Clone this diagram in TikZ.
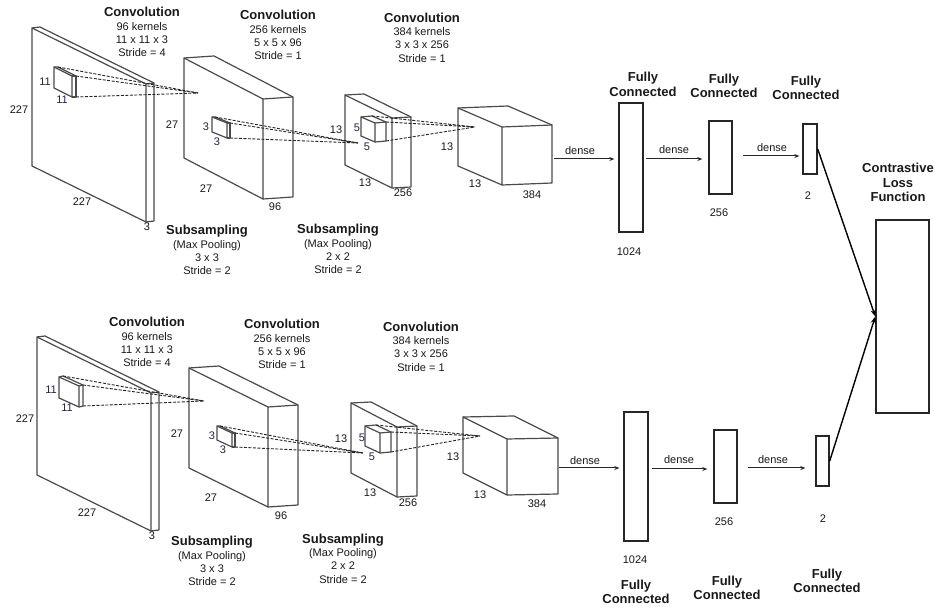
\documentclass[tikz,border=0pt]{standalone}
\usepackage{fontspec}
\setmainfont{Liberation Sans}
\usetikzlibrary{arrows.meta,calc}
\definecolor{edgec}{RGB}{75,75,75}
\definecolor{klab}{RGB}{35,35,75}
\definecolor{txt}{RGB}{25,25,25}
\newcommand\mycube[8]{%
  \coordinate (#1-a) at (#2,#3);
  \coordinate (#1-b) at (#4,#5);
  \coordinate (#1-c) at (#4,{#5+#6});
  \coordinate (#1-d) at (#2,{#3+#6});
  \coordinate (#1-f) at ({#2+#7},{#3+(#8)});
  \coordinate (#1-e) at ({#4+#7},{#5+(#8)});
  \coordinate (#1-g) at ({#4+#7},{#5+#6+(#8)});
  \draw[blk] (#1-a) -- (#1-b) -- (#1-c) -- (#1-d) -- cycle;
  \draw[blk] (#1-b) -- (#1-e) -- (#1-g) -- (#1-c);
  \draw[blk] (#1-a) -- (#1-f) -- (#1-e);
}
\newcommand\myrays[2]{%
  \draw[ray] (#1-f) -- (#2);
  \draw[ray] (#1-e) -- (#2);
  \draw[ray] (#1-g) -- (#2);
}
\begin{document}
\begin{tikzpicture}[x=1pt,y=-1pt,
  blk/.style={draw=edgec,line width=1.2pt,line join=round},
  ray/.style={draw=black!85,line width=0.9pt,dash pattern=on 3pt off 1.5pt},
  lab/.style={inner sep=0pt,text=txt,font=\fontsize{11}{13}\selectfont},
  klb/.style={lab,text=klab},
  ttl/.style={inner sep=0pt,text=txt,align=center,font=\fontsize{11}{13.3}\selectfont},
  fct/.style={inner sep=0pt,text=txt,align=center,font=\fontsize{13}{14.5}\selectfont\bfseries},
  fcbox/.style={draw=black!85,line width=1.4pt,inner sep=0pt,minimum width=#1},
  arr/.style={draw=black!85,line width=1pt,-{Stealth[length=5pt,width=4pt]}},
  larr/.style={draw=black,line width=1.4pt,-{Stealth[length=7pt,width=5pt]}}
]
\useasboundingbox (0,0) rectangle (935,609);
\fill[white] (0,0) rectangle (935,609);

% ---------------- top branch ----------------
\mycube{b1t}{32}{28}{146}{84}{138}{8}{-1}
\mycube{b2t}{184}{58}{263}{99}{100}{30}{-2}
\mycube{b3t}{345}{95}{392}{118}{70}{19}{-1}
\mycube{b4t}{458}{108}{502}{127}{58}{50}{-2}
\mycube{k1t}{54}{67}{72}{76}{21}{4}{0}
\mycube{k2t}{212}{117}{227}{123}{15}{3}{0}
\mycube{k3t}{361}{117}{375}{123}{19}{11}{-1}
\coordinate (a1t) at (198,93);
\coordinate (a2t) at (358,143);
\coordinate (a3t) at (475,127);
\myrays{k1t}{a1t}
\myrays{k2t}{a2t}
\myrays{k3t}{a3t}

\node[lab] (t227a) at (19,110) {227};
\node[lab] (t227b) at (82,202) {227};
\node[lab] (t3a) at (147,227) {3};
\node[klb] (t11a) at (45,82) {11};
\node[klb] (t11b) at (62,100) {11};
\node[lab] (t27a) at (172,125) {27};
\node[lab] (t27b) at (206,189) {27};
\node[lab] (t96) at (275,207) {96};
\node[klb] (t3b) at (206,127) {3};
\node[klb] (t3c) at (217,142) {3};
\node[lab] (t13a) at (336,130) {13};
\node[lab] (t13b) at (365,183) {13};
\node[lab] (t256a) at (403,193) {256};
\node[klb] (t5a) at (357,128) {5};
\node[klb] (t5b) at (367,147) {5};
\node[lab] (t13c) at (447,147) {13};
\node[lab] (t13d) at (475,184) {13};
\node[lab] (t384) at (532,195) {384};

\node[ttl] (tc1) at (142,32) {{\fontsize{13}{15}\selectfont\bfseries Convolution}\\96 kernels\\11 x 11 x 3\\Stride = 4};
\node[ttl] (tc2) at (278,35) {{\fontsize{13}{15}\selectfont\bfseries Convolution}\\256 kernels\\5 x 5 x 96\\Stride = 1};
\node[ttl] (tc3) at (422,37.5) {{\fontsize{13}{15}\selectfont\bfseries Convolution}\\384 kernels\\3 x 3 x 256\\Stride = 1};
\node[ttl] (ts1) at (207,250) {{\fontsize{13}{15}\selectfont\bfseries Subsampling}\\(Max Pooling)\\3 x 3\\Stride = 2};
\node[ttl] (ts2) at (338,249) {{\fontsize{13}{15}\selectfont\bfseries Subsampling}\\(Max Pooling)\\2 x 2\\Stride = 2};

\node[fcbox=24pt,minimum height=129pt] (fc1t) at (631,167.5) {};
\node[fcbox=23pt,minimum height=73pt] (fc2t) at (720.5,157.5) {};
\node[fcbox=14pt,minimum height=50pt] (fc3t) at (810,149) {};
\node[fct] (tf1) at (643,84.5) {Fully\\Connected};
\node[fct] (tf2) at (724,86) {Fully\\Connected};
\node[fct] (tf3) at (806,88) {Fully\\Connected};
\node[lab] (t1024a) at (629,252) {1024};
\node[lab] (t256b) at (719,213) {256};
\node[lab] (t2a) at (808,196) {2};

\coordinate (d1t) at (554,159);
\coordinate (d2t) at (646,159);
\coordinate (d3t) at (743,156);
\draw[arr,shorten >=4pt] (d1t) -- (d1t -| fc1t.west);
\draw[arr,shorten >=6pt] (d2t) -- (d2t -| fc2t.west);
\draw[arr,shorten >=3pt] (d3t) -- (d3t -| fc3t.west);
\node[lab] (tdn1) at (580,151) {dense};
\node[lab] (tdn2) at (674,150) {dense};
\node[lab] (tdn3) at (772,148) {dense};

% ---------------- loss ----------------
\node[fcbox=53pt,minimum height=193pt] (loss) at (902.5,316.5) {};
\node[fct] (tloss) at (898,182.5) {Contrastive\\Loss\\Function};

% ---------------- bottom branch ----------------
\mycube{b1b}{37}{337}{151}{393}{138}{8}{-1}
\mycube{b2b}{189}{368}{268}{407}{100}{30}{-2}
\mycube{b3b}{351}{403}{397}{427}{70}{20}{-1}
\mycube{b4b}{463}{417}{507}{439}{56}{51}{-1}
\mycube{k1b}{59}{377}{79}{386}{21}{4}{-1}
\mycube{k2b}{217}{426}{232}{433}{14}{3}{0}
\mycube{k3b}{365}{426}{380}{433}{20}{11}{-1}
\coordinate (a1b) at (204,401);
\coordinate (a2b) at (363,453);
\coordinate (a3b) at (480,436);
\myrays{k1b}{a1b}
\myrays{k2b}{a2b}
\myrays{k3b}{a3b}

\node[lab] (b227a) at (25,419) {227};
\node[lab] (b227b) at (87,513) {227};
\node[lab] (b3a) at (152,536) {3};
\node[klb] (b11a) at (51,390) {11};
\node[klb] (b11b) at (67,408) {11};
\node[lab] (b27a) at (177,434) {27};
\node[lab] (b27b) at (211,498) {27};
\node[lab] (b96) at (281,516) {96};
\node[klb] (b3b) at (212,436) {3};
\node[klb] (b3c) at (223,450) {3};
\node[lab] (b13a) at (341,439) {13};
\node[lab] (b13b) at (370,493) {13};
\node[lab] (b256a) at (408,503) {256};
\node[klb] (b5a) at (362,438) {5};
\node[klb] (b5b) at (372,457) {5};
\node[lab] (b13c) at (453,457) {13};
\node[lab] (b13d) at (480,495) {13};
\node[lab] (b384) at (537,504) {384};

\node[ttl] (bc1) at (147,342) {{\fontsize{13}{15}\selectfont\bfseries Convolution}\\96 kernels\\11 x 11 x 3\\Stride = 4};
\node[ttl] (bc2) at (282,344) {{\fontsize{13}{15}\selectfont\bfseries Convolution}\\256 kernels\\5 x 5 x 96\\Stride = 1};
\node[ttl] (bc3) at (421,346.5) {{\fontsize{13}{15}\selectfont\bfseries Convolution}\\384 kernels\\3 x 3 x 256\\Stride = 1};
\node[ttl] (bs1) at (212,561) {{\fontsize{13}{15}\selectfont\bfseries Subsampling}\\(Max Pooling)\\3 x 3\\Stride = 2};
\node[ttl] (bs2) at (343,558.5) {{\fontsize{13}{15}\selectfont\bfseries Subsampling}\\(Max Pooling)\\2 x 2\\Stride = 2};

\node[fcbox=24pt,minimum height=129pt] (fc1b) at (636,476.5) {};
\node[fcbox=23pt,minimum height=73pt] (fc2b) at (725.5,466.5) {};
\node[fcbox=13pt,minimum height=50pt] (fc3b) at (822.5,461) {};
\node[fct] (bf1) at (636,592) {Fully\\Connected};
\node[fct] (bf2) at (727,588) {Fully\\Connected};
\node[fct] (bf3) at (827,581) {Fully\\Connected};
\node[lab] (b1024) at (635,560) {1024};
\node[lab] (b256b) at (724,522) {256};
\node[lab] (b2a) at (823,519) {2};

\coordinate (d1b) at (559,468);
\coordinate (d2b) at (652,469);
\coordinate (d3b) at (748,468);
\draw[arr,shorten >=4pt] (d1b) -- (d1b -| fc1b.west);
\draw[arr,shorten >=6pt] (d2b) -- (d2b -| fc2b.west);
\draw[arr,shorten >=10pt] (d3b) -- (d3b -| fc3b.west);
\node[lab] (bdn1) at (585,461) {dense};
\node[lab] (bdn2) at (679,460) {dense};
\node[lab] (bdn3) at (773,460) {dense};

% ---------------- to loss ----------------
\draw[larr] (fc3t.east) -- (loss.west);
\draw[larr] (fc3b.east) -- (loss.west);
\end{tikzpicture}
\end{document}
